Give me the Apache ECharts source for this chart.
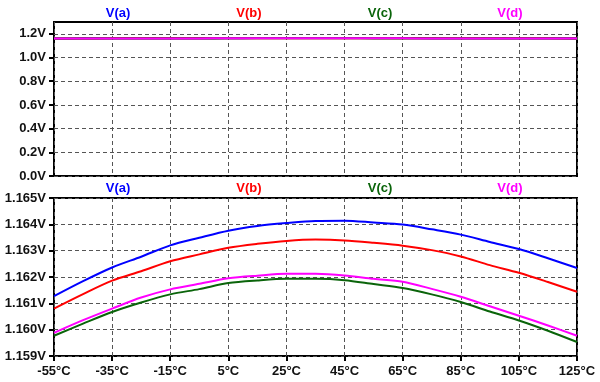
<!DOCTYPE html>
<html>
<head>
<meta charset="utf-8">
<script src="https://cdn.jsdelivr.net/npm/echarts@6/dist/echarts.min.js"></script>
<style>html,body{margin:0;padding:0;background:#fff}#c{width:600px;height:382px}</style>
</head>
<body>
<div id="c"></div>
<script>
const temps = [-55,-45,-35,-25,-15,-5,5,15,25,35,45,55,65,75,85,95,105,115,125];
const names = ['V(a)','V(b)','V(c)','V(d)'];
const colors = ['#0000ff','#ff0000','#0a640a','#ff00ff'];
const va = [1.16127,1.16184,1.16236,1.16277,1.16320,1.16349,1.16376,1.16394,1.16405,1.16413,1.16414,1.16407,1.16399,1.16381,1.16361,1.16333,1.16306,1.16271,1.16234];
const vb = [1.16080,1.16135,1.16186,1.16222,1.16260,1.16286,1.16311,1.16326,1.16337,1.16342,1.16339,1.16330,1.16319,1.16302,1.16278,1.16245,1.16216,1.16181,1.16144];
const vc = [1.15977,1.16023,1.16067,1.16103,1.16134,1.16154,1.16177,1.16187,1.16193,1.16193,1.16188,1.16173,1.16158,1.16134,1.16105,1.16069,1.16035,1.15996,1.15953];
const vd = [1.15988,1.16036,1.16080,1.16122,1.16153,1.16174,1.16195,1.16205,1.16212,1.16212,1.16206,1.16193,1.16182,1.16155,1.16125,1.16089,1.16053,1.16016,1.15977];
const topTicks = [0,0.2,0.4,0.6,0.8,1.0,1.2];
const bottomTicks = [1.159,1.160,1.161,1.162,1.163,1.164,1.165];

const values = [va, vb, vc, vd];
const FONT = '"Liberation Sans", Arial, sans-serif';
const chart = echarts.init(document.getElementById('c'), null, {renderer: 'canvas'});

const grid = [
  {left: 54, right: 23, top: 22, height: 154, show: true, borderColor: '#000', borderWidth: 2, backgroundColor: 'transparent'},
  {left: 54, right: 23, top: 198, height: 158, show: true, borderColor: '#000', borderWidth: 2, backgroundColor: 'transparent'}
];
const splitStyle = {color: '#555', width: 1, type: [4, 3]};
const xAxis = [0, 1].map(i => ({
  type: 'category', gridIndex: i, data: temps, boundaryGap: false,
  axisLine: {show: false},
  axisTick: {show: i === 1, interval: 1, length: 5, lineStyle: {color: '#000', width: 2}},
  axisLabel: {show: i === 1, interval: 1, margin: 9, color: '#111', fontWeight: 'bold', fontSize: 13, fontFamily: FONT,
    formatter: v => v + '°C'},
  splitLine: {show: true, interval: 1, lineStyle: splitStyle}
}));
const yAxis = [
  {type: 'value', gridIndex: 0, min: 0, max: 1.3, interval: 0.2,
   axisLine: {show: false},
   axisTick: {show: true, length: 5, lineStyle: {color: '#000', width: 2}, customValues: topTicks},
   axisLabel: {margin: 8, color: '#111', fontWeight: 'bold', fontSize: 13, fontFamily: FONT, customValues: topTicks,
     formatter: v => v.toFixed(1) + 'V'},
   splitLine: {show: true, lineStyle: splitStyle}},
  {type: 'value', gridIndex: 1, min: 1.159, max: 1.165, interval: 0.001,
   axisLine: {show: false},
   axisTick: {show: true, length: 5, lineStyle: {color: '#000', width: 2}},
   axisLabel: {margin: 8, color: '#111', fontWeight: 'bold', fontSize: 13, fontFamily: FONT,
     formatter: v => v.toFixed(3) + 'V'},
   splitLine: {show: true, lineStyle: splitStyle}}
];
const series = [];
[0, 1].forEach(g => {
  values.forEach((vals, k) => {
    series.push({
      name: names[k], type: 'line', xAxisIndex: g, yAxisIndex: g, data: vals,
      showSymbol: false, smooth: 0.3, animation: false,
      lineStyle: {color: colors[k], width: 2}, itemStyle: {color: colors[k]}, z: 3
    });
  });
});
const titleX = [118, 249, 380, 510];
const graphic = [];
[13, 188].forEach(y => {
  names.forEach((n, k) => {
    graphic.push({type: 'text', x: titleX[k], y: y, style: {text: n, fill: colors[k], font: 'bold 13px ' + FONT, textAlign: 'center', textVerticalAlign: 'middle'}});
  });
});
chart.setOption({animation: false, grid, xAxis, yAxis, series, graphic});
</script>
</body>
</html>
